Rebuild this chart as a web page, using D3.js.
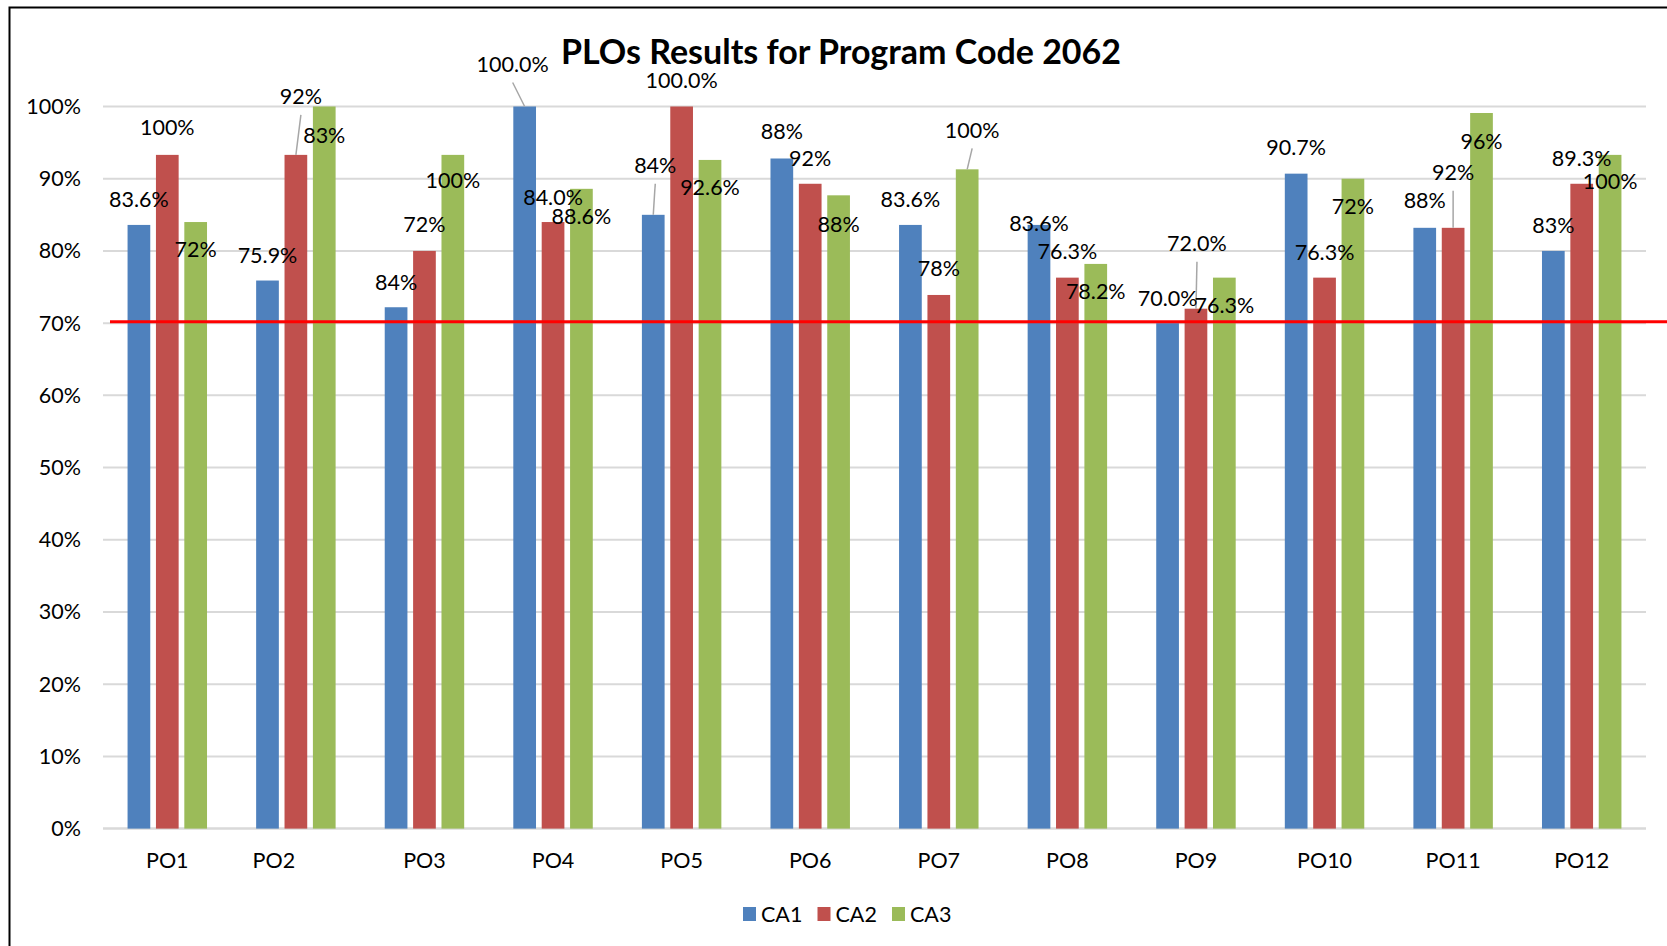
<!DOCTYPE html>
<html>
<head>
<meta charset="utf-8">
<script src="https://cdn.jsdelivr.net/npm/d3@7"></script>
<style>
    body { margin: 0; background: #fff; }
    svg text { font-family: Lato, "Open Sans", sans-serif; fill: #000; }
</style>
</head>
<body>
<div id="figure"></div>
<script>
var categories = ["PO1", "PO2", "PO3", "PO4", "PO5", "PO6", "PO7", "PO8", "PO9", "PO10", "PO11", "PO12"];
var seriesNames = ["CA1", "CA2", "CA3"];
var seriesColors = ["#4f81bd", "#c0504d", "#9bbb59"];

// bar heights (percent)
var ca1 = [83.6, 75.9, 72.2, 100, 85.0, 92.8, 83.6, 83.6, 70.0, 90.7, 83.2, 80.0];
var ca2 = [93.3, 93.3, 80.0, 84.0, 100, 89.3, 73.9, 76.3, 72.0, 76.3, 83.2, 89.3];
var ca3 = [84.0, 100, 93.3, 88.6, 92.6, 87.7, 91.3, 78.2, 76.3, 90.0, 99.1, 93.3];

// data label texts as printed on the chart
var ca1Labels = ["83.6%", "75.9%", "84%", "100.0%", "84%", "88%", "83.6%", "83.6%", "70.0%", "90.7%", "88%", "83%"];
var ca2Labels = ["100%", "92%", "72%", "84.0%", "100.0%", "92%", "78%", "76.3%", "72.0%", "76.3%", "92%", "89.3%"];
var ca3Labels = ["72%", "83%", "100%", "88.6%", "92.6%", "88%", "100%", "78.2%", "76.3%", "72%", "96%", "100%"];

var yTicks = [0, 10, 20, 30, 40, 50, 60, 70, 80, 90, 100];
var targetLine = 70;

// label layout: vertical nudge (px from bar top), horizontal nudge, leader line flags
var labelDy = [
    [-25, -25, -25, -42, -49, -27, -25, -1, -25, -26, -27, -25],
    [-27, -58, -26, -25, -26, -25, -26, -26, -65, -25, -55, -25],
    [27, 29, 26, 28, 28, 29, -39, 28, 28, 28, 28, 27]
];
var labelDx = [
    [0, 0, 0, -12, 2, 0, 0, 0, 0, 0, 0, 0],
    [0, 5, 0, 0, 0, 0, 0, 0, 1, 0, 0, 0],
    [0, 0, 0, 0, 0, 0, 5, 0, 0, 0, 0, 0]
];
var leaders = [
    [false, false, false, true, true, false, false, false, false, false, false, false],
    [false, true, false, false, false, false, false, false, true, false, true, false],
    [false, false, false, false, false, false, true, false, false, false, false, false]
];

var W = 1667, H = 946;
var plotLeft = 103, plotRight = 1646, plotTop = 106.5, plotBottom = 828.6;
var fontSize = 21.5;

var svg = d3.select("#figure")
    .append("svg")
    .attr("width", W)
    .attr("height", H);

// outer frame
svg.append("rect")
    .attr("x", 9.5).attr("y", 7.5)
    .attr("width", W + 20).attr("height", H + 20)
    .attr("fill", "#fff")
    .attr("stroke", "#000")
    .attr("stroke-width", 2);

var x0 = d3.scaleBand()
    .domain(categories)
    .range([plotLeft, plotRight])
    .paddingInner(0.382)
    .paddingOuter(0.191);

var x1 = d3.scaleBand()
    .domain(seriesNames)
    .range([0, x0.bandwidth()])
    .paddingInner(0.2);

var y = d3.scaleLinear()
    .domain([0, 100])
    .range([plotBottom, plotTop]);

// gridlines
svg.append("g")
    .selectAll("line")
    .data(yTicks)
    .join("line")
    .attr("x1", plotLeft).attr("x2", plotRight)
    .attr("y1", d => y(d)).attr("y2", d => y(d))
    .attr("stroke", "#d9d9d9")
    .attr("stroke-width", d => d === 0 ? 2.5 : 2);

// y axis labels
var yAxis = svg.append("g")
    .attr("transform", `translate(${plotLeft},0)`)
    .call(d3.axisLeft(y).tickValues(yTicks).tickFormat(d => d + "%").tickSize(0).tickPadding(22));
yAxis.select(".domain").remove();
yAxis.attr("font-family", null);
yAxis.selectAll("text").attr("font-size", fontSize).attr("fill", "#000");

// x axis labels
var xAxis = svg.append("g")
    .attr("transform", `translate(0,${plotBottom})`)
    .call(d3.axisBottom(x0).tickSize(0).tickPadding(24));
xAxis.select(".domain").remove();
xAxis.attr("font-family", null);
xAxis.selectAll("text")
    .attr("font-size", fontSize)
    .attr("fill", "#000")
    // PO2 label sits off-centre in the original
    .attr("dx", d => d === "PO2" ? -22 : 0);

var values = [ca1, ca2, ca3];
var labels = [ca1Labels, ca2Labels, ca3Labels];

var rows = [];
seriesNames.forEach((s, si) => {
    categories.forEach((c, ci) => {
        rows.push({
            series: s, si: si, cat: c, ci: ci,
            value: values[si][ci], label: labels[si][ci]
        });
    });
});

// bars
svg.append("g")
    .selectAll("rect")
    .data(rows)
    .join("rect")
    .attr("x", d => x0(d.cat) + x1(d.series))
    .attr("y", d => y(d.value))
    .attr("width", x1.bandwidth())
    .attr("height", d => y(0) - y(d.value))
    .attr("fill", d => seriesColors[d.si]);

// target line
svg.append("line")
    .attr("x1", plotLeft + 7).attr("x2", W)
    .attr("y1", y(targetLine) - 1.5).attr("y2", y(targetLine) - 1.5)
    .attr("stroke", "#ff0000")
    .attr("stroke-width", 3);

function cx(d) { return x0(d.cat) + x1(d.series) + x1.bandwidth() / 2; }
function lx(d) { return cx(d) + labelDx[d.si][d.ci]; }
function ly(d) { return y(d.value) + labelDy[d.si][d.ci]; }

// leader lines
svg.append("g")
    .selectAll("line")
    .data(rows.filter(d => leaders[d.si][d.ci]))
    .join("line")
    .attr("x1", d => lx(d)).attr("y1", d => ly(d) + 18)
    .attr("x2", d => cx(d)).attr("y2", d => y(d.value))
    .attr("stroke", "#a6a6a6")
    .attr("stroke-width", 1.5);

// data labels
svg.append("g")
    .selectAll("text")
    .data(rows)
    .join("text")
    .attr("x", d => lx(d))
    .attr("y", d => ly(d))
    .attr("dy", "0.35em")
    .attr("text-anchor", "middle")
    .attr("font-size", fontSize)
    .text(d => d.label);

// title
svg.append("text")
    .attr("x", 841)
    .attr("y", 64)
    .attr("text-anchor", "middle")
    .attr("font-size", 34)
    .attr("font-weight", "bold")
    .text("PLOs Results for Program Code 2062");

// legend
var legend = svg.append("g")
    .attr("transform", "translate(743,914)");
var item = legend.selectAll("g")
    .data(seriesNames)
    .join("g")
    .attr("transform", (d, i) => `translate(${i * 74.5},0)`);
item.append("rect")
    .attr("x", 0).attr("y", -7)
    .attr("width", 13).attr("height", 14)
    .attr("fill", (d, i) => seriesColors[i]);
item.append("text")
    .attr("x", 18)
    .attr("dy", "0.35em")
    .attr("font-size", fontSize)
    .text(d => d);
</script>
</body>
</html>
